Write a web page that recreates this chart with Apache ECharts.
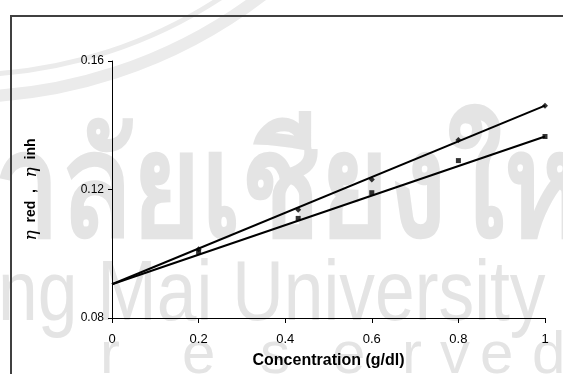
<!DOCTYPE html>
<html>
<head>
<meta charset="utf-8">
<script src="https://cdn.jsdelivr.net/npm/echarts@6/dist/echarts.min.js"></script>
<style>
html,body{margin:0;padding:0;background:#fff;}
#chart{width:563px;height:374px;}
</style>
</head>
<body>
<div id="chart"></div>
<script>
// ---- data ----
const concentration = [0.2, 0.43, 0.6, 0.8, 1.0];
const etaRed = [0.1014, 0.1137, 0.1231, 0.1354, 0.1461];
const etaInh = [0.1005, 0.1110, 0.1190, 0.1290, 0.1365];
const fitX = [0, 1];
const fitRed = [0.0905, 0.1461];
const fitInh = [0.0905, 0.1365];
const xTickLabels = ['0', '0.2', '0.4', '0.6', '0.8', '1'];
const yTickLabels = ['0.08', '0.12', '0.16'];
const xAxisTitle = 'Concentration (g/dl)';
const watermarkThai = 'าลัยเชียงใหม่';
const watermarkLatin = 'ng Mai University';
const watermarkLetters = ['r', 'e', 's', 'e', 'r', 'v', 'e', 'd'];

const pair = (xs, ys) => xs.map((x, i) => [x, ys[i]]);

const chart = echarts.init(document.getElementById('chart'), null, {renderer: 'canvas'});
const font = 'Liberation Sans, Arial, sans-serif';
const wmFill = '#e4e4e4';
const letterX = [100, 182, 260, 332, 402, 440, 480, 532];

const graphics = [
  { type: 'arc', z: -10, shape: { cx: -38, cy: -397, r: 472, startAngle: 0.85, endAngle: 1.66 },
    style: { fill: 'none', stroke: '#ebebeb', lineWidth: 5 } },
  { type: 'arc', z: -10, shape: { cx: -38, cy: -397, r: 494, startAngle: 0.85, endAngle: 1.66 },
    style: { fill: 'none', stroke: '#ebebeb', lineWidth: 12 } },
  { type: 'text', z: -10, left: -6, top: 122, scaleX: 0.81,
    style: { text: watermarkThai, font: 'bold 145px "Noto Sans", "DejaVu Sans", sans-serif', fill: wmFill } },
  { type: 'text', z: -10, left: -2, top: 254, scaleX: 0.84,
    style: { text: watermarkLatin, font: '85px "Liberation Sans", Arial, sans-serif', fill: wmFill } }
];
watermarkLetters.forEach((ch, i) => graphics.push({
  type: 'text', z: -10, left: letterX[i], top: 326,
  style: { text: ch, font: '60px "Liberation Sans", Arial, sans-serif', fill: wmFill }
}));
graphics.push({ type: 'rect', z: 100, shape: { x: 11, y: 16, width: 700, height: 500 },
  style: { fill: 'none', stroke: '#404040', lineWidth: 2 } });

chart.setOption({
  backgroundColor: '#ffffff',
  animation: false,
  graphic: graphics,
  grid: { left: 112, right: 18, top: 61, bottom: 55, containLabel: false },
  xAxis: {
    type: 'value', min: 0, max: 1, interval: 0.2,
    name: xAxisTitle, nameLocation: 'middle', nameGap: 35,
    nameTextStyle: { fontFamily: font, fontSize: 16, fontWeight: 'bold', color: '#000' },
    axisLine: { show: true, onZero: false, lineStyle: { color: '#000', width: 1 } },
    axisTick: { show: true, length: 5, inside: false, lineStyle: { color: '#000' } },
    axisLabel: { margin: 15, fontFamily: font, fontSize: 13, color: '#000',
      formatter: (v) => xTickLabels[Math.round(v / 0.2)] },
    splitLine: { show: false }
  },
  yAxis: {
    type: 'value', min: 0.08, max: 0.16, interval: 0.04,
    name: '{e|η}  red  ,   {e|η}  inh', nameLocation: 'middle', nameGap: 72, nameRotate: 90,
    nameTextStyle: { fontFamily: font, fontSize: 14, fontWeight: 'bold', color: '#000',
      rich: { e: { fontFamily: 'DejaVu Serif, serif', fontStyle: 'italic', fontWeight: 'normal', fontSize: 17, color: '#000' } } },
    axisLine: { show: true, onZero: false, lineStyle: { color: '#000', width: 1 } },
    axisTick: { show: true, length: 4, lineStyle: { color: '#000' } },
    axisLabel: { margin: 8, fontFamily: font, fontSize: 12, color: '#000',
      formatter: (v) => yTickLabels[Math.round((v - 0.08) / 0.04)] },
    splitLine: { show: false }
  },
  series: [
    { type: 'line', data: pair(fitX, fitRed), showSymbol: false, silent: true,
      lineStyle: { color: '#000', width: 2 }, z: 3 },
    { type: 'line', data: pair(fitX, fitInh), showSymbol: false, silent: true,
      lineStyle: { color: '#000', width: 2 }, z: 3 },
    { type: 'scatter', name: 'ηred', data: pair(concentration, etaRed),
      symbol: 'diamond', symbolSize: 6, itemStyle: { color: '#000' }, z: 4 },
    { type: 'scatter', name: 'ηinh', data: pair(concentration, etaInh),
      symbol: 'rect', symbolSize: 5, itemStyle: { color: '#000' }, z: 4 }
  ]
});
</script>
</body>
</html>
